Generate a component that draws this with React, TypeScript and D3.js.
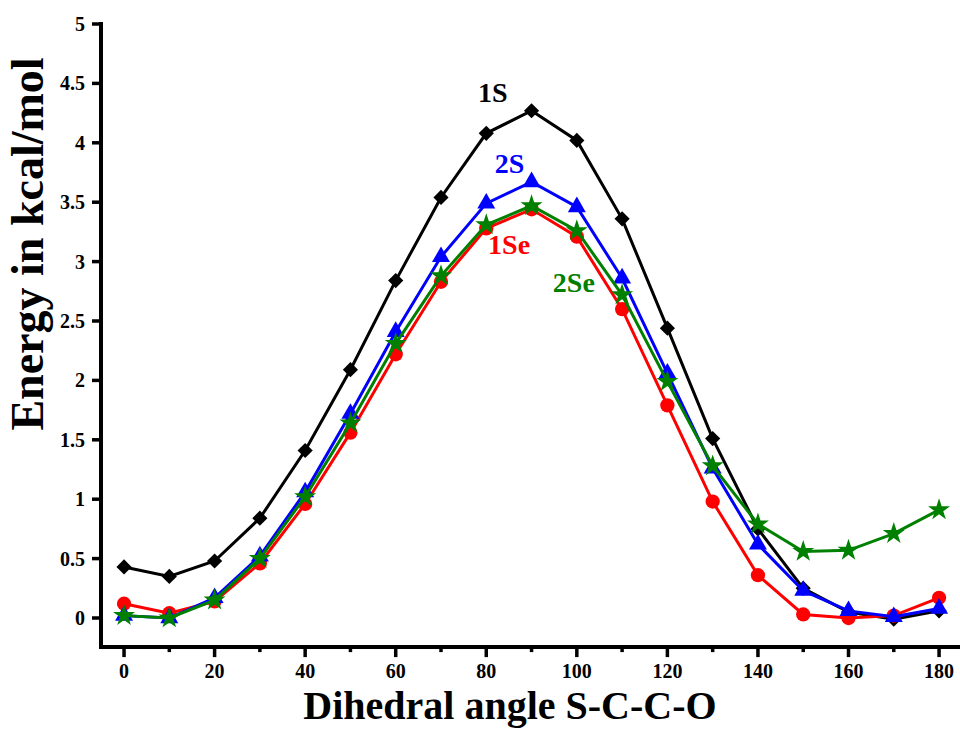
import React from "react";
import * as d3 from "d3";

const angles = [0, 10, 20, 30, 40, 50, 60, 70, 80, 90, 100, 110, 120, 130, 140, 150, 160, 170, 180];
const s1 = [0.43, 0.35, 0.48, 0.84, 1.41, 2.09, 2.84, 3.54, 4.08, 4.27, 4.02, 3.36, 2.44, 1.51, 0.75, 0.25, 0.05, -0.01, 0.06];
const se1 = [0.12, 0.04, 0.14, 0.46, 0.96, 1.56, 2.22, 2.83, 3.28, 3.44, 3.21, 2.6, 1.79, 0.98, 0.36, 0.03, 0.0, 0.02, 0.17];
const s2 = [0.02, 0.0, 0.17, 0.52, 1.06, 1.72, 2.41, 3.04, 3.49, 3.67, 3.46, 2.86, 2.06, 1.26, 0.62, 0.23, 0.06, 0.01, 0.08];
const se2 = [0.02, 0.0, 0.15, 0.5, 1.02, 1.64, 2.31, 2.88, 3.31, 3.47, 3.26, 2.72, 1.99, 1.28, 0.79, 0.56, 0.57, 0.71, 0.91];

const yTicks = [0, 0.5, 1, 1.5, 2, 2.5, 3, 3.5, 4, 4.5, 5];
const yTickLabels = ["0", "0.5", "1", "1.5", "2", "2.5", "3", "3.5", "4", "4.5", "5"];
const xMajor = [0, 20, 40, 60, 80, 100, 120, 140, 160, 180];
const xMinor = [10, 30, 50, 70, 90, 110, 130, 150, 170];

const seriesNames = ["1S", "1Se", "2S", "2Se"];
const seriesValues = [s1, se1, s2, se2];
const seriesColors = ["#000000", "#ff0000", "#0000ff", "#008000"];
const seriesMarkers = ["diamond", "circle", "triangle", "star"];

const labelX = [78.2, 80.4, 81.9, 94.7];
const labelY = [4.34, 3.06, 3.75, 2.74];

const FONT = "'Liberation Serif', 'Times New Roman', serif";

export default function App() {
  const W = 960, H = 729;
  const x = d3.scaleLinear().domain([-5, 185]).range([101.4, 961.7]);
  const y = d3.scaleLinear().domain([0, 5]).range([618, 24]);
  const x0 = 101;
  const yBottom = y(-0.245);

  const line = d3.line<number>().x((_, i) => x(angles[i])).y((v) => y(v));

  const symbolFor = (m: string) => {
    if (m === "diamond") return d3.symbol().type(d3.symbolSquare).size(115)();
    if (m === "circle") return d3.symbol().type(d3.symbolCircle).size(160)();
    if (m === "triangle") return d3.symbol().type(d3.symbolTriangle).size(140)();
    return d3.symbol().type(d3.symbolStar).size(150)();
  };

  return (
    <svg width={W} height={H} style={{ position: "absolute", left: 0, top: 0, background: "#fff" }} fontFamily={FONT}>
      <rect x={0} y={0} width={W} height={H} fill="#fff" />
      {/* axes */}
      <line x1={x0} y1={22} x2={x0} y2={yBottom + 2} stroke="#000" strokeWidth={4} />
      <line x1={x0 - 2} y1={yBottom} x2={W} y2={yBottom} stroke="#000" strokeWidth={4} />
      {yTicks.map((t, i) => (
        <g key={"yt" + i}>
          <line x1={x0 - 9} x2={x0} y1={y(t)} y2={y(t)} stroke="#000" strokeWidth={3.5} />
          <text x={x0 - 16} y={y(t) + 7} textAnchor="end" fontSize={20} fontWeight="bold">
            {yTickLabels[i]}
          </text>
        </g>
      ))}
      {xMajor.map((t) => (
        <g key={"xt" + t}>
          <line x1={x(t)} x2={x(t)} y1={yBottom} y2={yBottom + 10} stroke="#000" strokeWidth={3.5} />
          <text x={x(t)} y={678} textAnchor="middle" fontSize={20} fontWeight="bold">
            {t}
          </text>
        </g>
      ))}
      {xMinor.map((t) => (
        <line key={"xm" + t} x1={x(t)} x2={x(t)} y1={yBottom} y2={yBottom + 5} stroke="#000" strokeWidth={3.5} />
      ))}
      {/* axis titles */}
      <text x={510} y={719} textAnchor="middle" fontSize={40} fontWeight="bold">
        Dihedral angle S-C-C-O
      </text>
      <text transform={`translate(43,244) rotate(-90)`} textAnchor="middle" fontSize={46} fontWeight="bold">
        Energy in kcal/mol
      </text>
      {/* series */}
      {seriesValues.map((vals, si) => (
        <g key={"s" + si}>
          <path d={line(vals) || ""} fill="none" stroke={seriesColors[si]} strokeWidth={3} />
          {vals.map((v, i) => (
            <path
              key={i}
              d={symbolFor(seriesMarkers[si]) || ""}
              transform={`translate(${x(angles[i])},${y(v)})${seriesMarkers[si] === "diamond" ? " rotate(45)" : ""}`}
              fill={seriesColors[si]}
            />
          ))}
        </g>
      ))}
      {seriesNames.map((n, i) => (
        <text key={"l" + n} x={x(labelX[i])} y={y(labelY[i])} fontSize={28} fontWeight="bold" fill={seriesColors[i]}>
          {n}
        </text>
      ))}
    </svg>
  );
}
